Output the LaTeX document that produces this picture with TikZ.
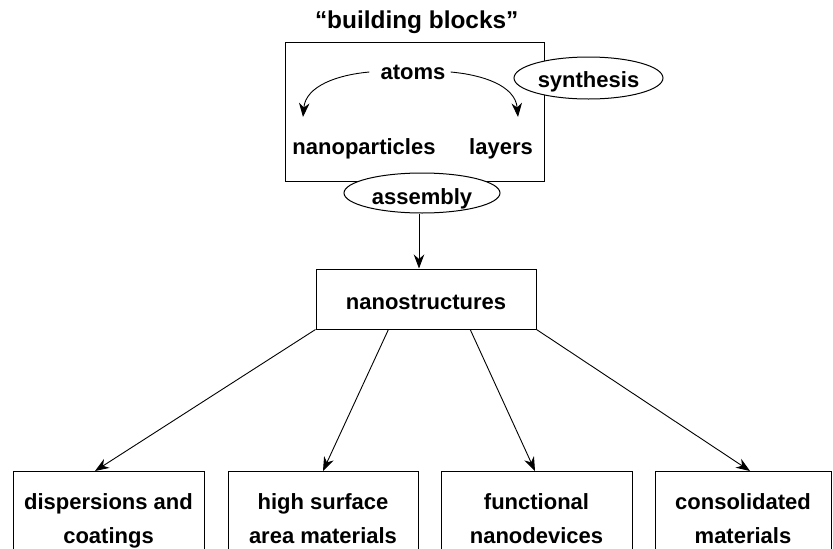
\documentclass[tikz,border=0pt]{standalone}
\usepackage{fontspec}
\setmainfont{Liberation Sans}
\usetikzlibrary{arrows.meta,shapes.geometric,calc}
\begin{document}
\begin{tikzpicture}[x=1pt,y=1pt,
  txt/.style={font=\fontsize{22}{34}\selectfont\bfseries, inner sep=0pt},
  box/.style={draw, line width=1pt},
  arr/.style={-{Stealth[length=14pt,width=10.5pt,inset=4.5pt]}, line width=0.9pt},
  oval/.style={ellipse, draw, fill=white, line width=1pt}]
\useasboundingbox (0,0) rectangle (833,-549);
\clip (0,0) rectangle (833,-549);

% building blocks
\node[txt, font=\fontsize{24.4}{30}\selectfont\bfseries, anchor=base] (title) at (416.7,-28) {“building blocks”};
\node[box, minimum width=259pt, minimum height=139pt, inner sep=0pt] (bb) at (414.5,-111.5) {};
\node[txt, anchor=base, text height=16pt, text depth=5pt] (atoms) at (413,-79) {atoms};
\node[txt, anchor=base] (np) at (364,-154) {nanoparticles};
\node[txt, anchor=base] (ly) at (501,-154) {layers};
\coordinate (lt) at (303,-117);
\coordinate (rt) at (518,-117);
\draw[arr] ($(atoms.west)+(-11,1.5)$) to[out=185,in=85] (lt);
\draw[arr] ($(atoms.east)+(5,1.5)$) to[out=-5,in=95] (rt);

% ovals
\node[oval, txt, minimum width=149pt, minimum height=42pt, text height=20.6pt, text depth=2pt] (syn) at (588.5,-78) {synthesis};
\node[oval, txt, minimum width=156pt, minimum height=40pt, text height=24pt, text depth=2pt] (asm) at (422,-193) {assembly};

% nanostructures
\node[box, txt, minimum width=220pt, text height=40pt, text depth=20pt, anchor=base] (ns) at (426,-309) {nanostructures};
\coordinate (vx) at (419,0);
\draw[arr] (asm.south -| vx) -- (ns.north -| vx);

% bottom boxes
\tikzset{bot/.style={box, txt, anchor=north, align=center, inner ysep=21pt}}
\node[bot, minimum width=191pt] (d1) at (108.5,-471) {\rule{0pt}{17pt}dispersions and\\coatings\rule[-6pt]{0pt}{6pt}};
\node[bot, minimum width=190pt] (d2) at (323,-471) {\rule{0pt}{17pt}high surface\\area materials\rule[-6pt]{0pt}{6pt}};
\node[bot, minimum width=191pt] (d3) at (536.5,-471) {\rule{0pt}{17pt}functional\\nanodevices\rule[-6pt]{0pt}{6pt}};
\node[bot, minimum width=176pt] (d4) at (743,-471) {\rule{0pt}{17pt}consolidated\\materials\rule[-6pt]{0pt}{6pt}};

\draw[arr] (ns.south west) -- ($(d1.north)+(-13.5,0)$);
\draw[arr] ($(ns.south west)!0.33!(ns.south east)$) -- (d2.north);
\draw[arr] ($(ns.south west)!0.70!(ns.south east)$) -- ($(d3.north)+(-1.5,0)$);
\draw[arr] (ns.south east) -- ($(d4.north)+(7,0)$);
\end{tikzpicture}
\end{document}
